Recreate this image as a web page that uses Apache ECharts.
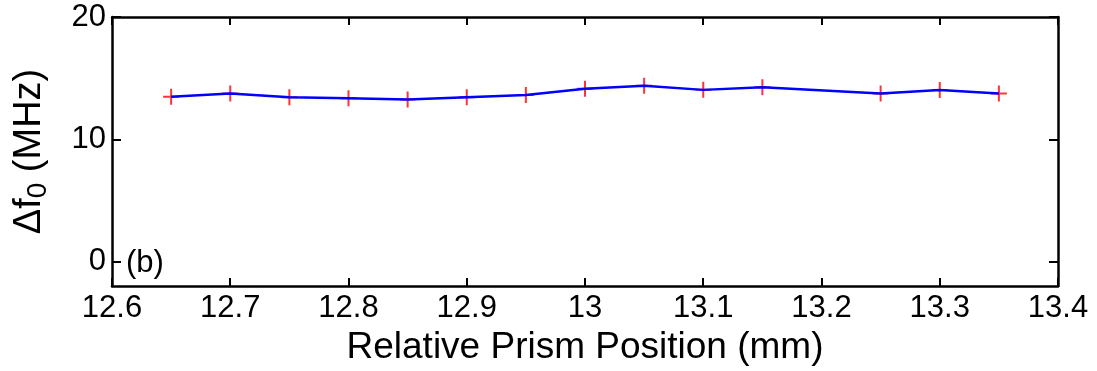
<!DOCTYPE html>
<html>
<head>
<meta charset="utf-8">
<script src="https://cdn.jsdelivr.net/npm/echarts@6/dist/echarts.min.js"></script>
<style>
html,body{margin:0;padding:0;background:#fff;}
#chart{width:1097px;height:371px;}
</style>
</head>
<body>
<div id="chart"></div>
<script>
var positions = [12.65, 12.70, 12.75, 12.80, 12.85, 12.90, 12.95, 13.00, 13.05, 13.10, 13.15, 13.25, 13.30, 13.35];
var deltaF0 = [13.47, 13.74, 13.44, 13.36, 13.25, 13.44, 13.63, 14.13, 14.37, 14.04, 14.26, 13.74, 14.02, 13.74];
var yTicks = [0, 10, 20];
var xLabel = 'Relative Prism Position (mm)';
var panelLabel = '(b)';

var pts = positions.map(function (x, i) { return [x, deltaF0[i]]; });
var FONT = '"Liberation Sans", Arial, sans-serif';
var plus = 'path://M7,0H9V7H16V9H9V16H7V9H0V7H7Z';

var chart = echarts.init(document.getElementById('chart'));
var axisLine = { show: true, onZero: false, lineStyle: { color: '#000', width: 2.5 } };
chart.setOption({
  animation: false,
  grid: { left: 112, right: 39, top: 17, bottom: 85, containLabel: false, outerBoundsMode: 'none' },
  xAxis: [{
    type: 'value', min: 12.6, max: 13.4, interval: 0.1, position: 'bottom',
    axisLine: axisLine,
    axisTick: { show: true, inside: true, length: 8, lineStyle: { color: '#000', width: 2 } },
    splitLine: { show: false },
    axisLabel: { color: '#000', fontSize: 31, fontFamily: FONT, margin: 7,
      formatter: function (v) { return String(parseFloat(v.toFixed(1))); } },
    name: xLabel, nameLocation: 'middle', nameGap: 38,
    nameTextStyle: { color: '#000', fontSize: 37, fontFamily: FONT }
  }, {
    type: 'value', min: 12.6, max: 13.4, interval: 0.1, position: 'top',
    axisLine: axisLine,
    axisTick: { show: true, inside: true, length: 8, lineStyle: { color: '#000', width: 2 } },
    axisLabel: { show: false }, splitLine: { show: false }
  }],
  yAxis: [{
    type: 'value', min: -2, max: 20, position: 'left',
    axisLine: axisLine,
    axisTick: { show: true, inside: true, length: 9, customValues: yTicks, lineStyle: { color: '#000', width: 2 } },
    axisLabel: { color: '#000', fontSize: 31, fontFamily: FONT, margin: 6, customValues: yTicks },
    splitLine: { show: false },
    name: '{a|Δf}{s|0}{a| (MHz)}', nameLocation: 'middle', nameGap: 60, nameRotate: 90,
    nameTextStyle: { color: '#000', fontFamily: FONT,
      rich: {
        a: { fontSize: 38, fontFamily: FONT, color: '#000', lineHeight: 44 },
        s: { fontSize: 28, fontFamily: FONT, color: '#000', lineHeight: 44, padding: [32, 0, 0, 0], verticalAlign: 'bottom' }
      } }
  }, {
    type: 'value', min: -2, max: 20, position: 'right',
    axisLine: axisLine,
    axisTick: { show: true, inside: true, length: 9, customValues: yTicks, lineStyle: { color: '#000', width: 2 } },
    axisLabel: { show: false, customValues: yTicks }, splitLine: { show: false }
  }],
  graphic: [{
    type: 'text', left: 126, top: 248,
    style: { text: panelLabel, fontSize: 31, fontFamily: FONT, fill: '#000' }
  }],
  series: [{
    type: 'scatter', data: pts, symbol: plus, symbolSize: 16, z: 2,
    itemStyle: { color: '#ff0000' }
  }, {
    type: 'line', data: pts, showSymbol: false, symbol: 'none', z: 3,
    lineStyle: { color: '#0000ff', width: 2.5 }
  }]
});
</script>
</body>
</html>
